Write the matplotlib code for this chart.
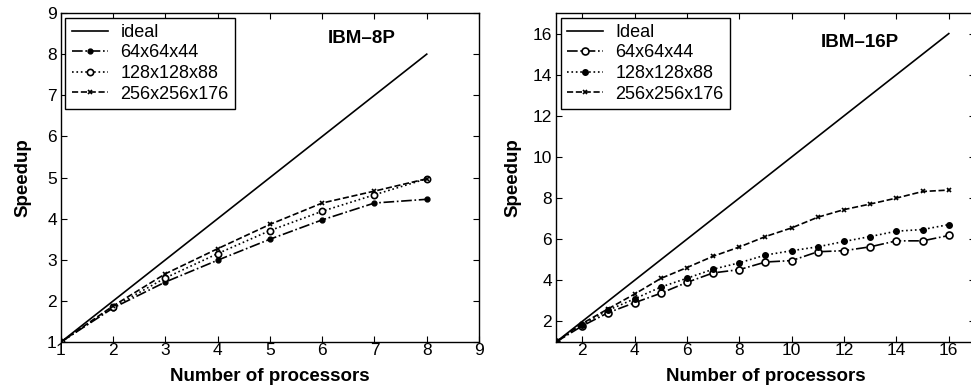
import matplotlib
matplotlib.use('Agg')
import matplotlib.pyplot as plt

plt.rcParams['font.family'] = ['Liberation Sans', 'DejaVu Sans']

# IBM-8P
procs_8 = [1, 2, 3, 4, 5, 6, 7, 8]
ideal_8 = [1, 2, 3, 4, 5, 6, 7, 8]
s64_8 = [1, 1.83, 2.46, 2.99, 3.50, 3.97, 4.38, 4.47]
s128_8 = [1, 1.85, 2.56, 3.15, 3.71, 4.18, 4.58, 4.97]
s256_8 = [1, 1.88, 2.66, 3.27, 3.86, 4.38, 4.67, 4.97]

# IBM-16P
procs_16 = list(range(1, 17))
ideal_16 = list(range(1, 17))
s64_16 = [1, 1.78, 2.43, 2.91, 3.37, 3.90, 4.36, 4.52, 4.89, 4.96, 5.39, 5.44, 5.63, 5.92, 5.92, 6.18]
s128_16 = [1, 1.85, 2.55, 3.10, 3.67, 4.10, 4.54, 4.85, 5.23, 5.44, 5.63, 5.89, 6.13, 6.39, 6.47, 6.71]
s256_16 = [1, 1.90, 2.62, 3.33, 4.09, 4.62, 5.17, 5.62, 6.13, 6.55, 7.07, 7.44, 7.71, 8.00, 8.32, 8.39]

fig = plt.figure(figsize=(9.71, 3.91), dpi=100)
ax1 = fig.add_axes([0.0628, 0.1253, 0.4305, 0.8414])
ax2 = fig.add_axes([0.5726, 0.1253, 0.4315, 0.8414])

lw = 1.2
ax1.plot(procs_8, ideal_8, 'k-', lw=lw, label='ideal')
ax1.plot(procs_8, s64_8, 'k-.', lw=lw, marker='.', ms=7, label='64x64x44')
ax1.plot(procs_8, s128_8, 'k:', lw=lw, marker='o', ms=4.5, mfc='white', mew=1.2, label='128x128x88')
ax1.plot(procs_8, s256_8, 'k--', lw=lw, marker='x', ms=3.5, mew=1.2, label='256x256x176')

ax2.plot(procs_16, ideal_16, 'k-', lw=lw, label='Ideal')
ax2.plot(procs_16, s64_16, 'k-.', lw=lw, marker='o', ms=5, mfc='white', mew=1.2, label='64x64x44')
ax2.plot(procs_16, s128_16, 'k:', lw=lw, marker='.', ms=8, label='128x128x88')
ax2.plot(procs_16, s256_16, 'k--', lw=lw, marker='x', ms=3.5, mew=1.2, label='256x256x176')

ax1.set_xlim(1, 9)
ax1.set_ylim(1, 9)
ax1.set_xticks(range(1, 10))
ax1.set_yticks(range(1, 10))
ax1.text(6.75, 8.39, 'IBM\u20138P', fontsize=13.5, fontweight='bold', ha='center', va='center')

ax2.set_xlim(1, 17)
ax2.set_ylim(1, 17)
ax2.set_xticks(range(2, 17, 2))
ax2.set_yticks(range(2, 17, 2))
ax2.text(12.6, 15.55, 'IBM\u201316P', fontsize=13.5, fontweight='bold', ha='center', va='center')

for ax, ypad in ((ax1, 11), (ax2, 8)):
    ax.tick_params(direction='in', top=True, right=True, labelsize=12.5, length=4, width=0.8)
    ax.tick_params(axis='x', pad=1)
    ax.tick_params(axis='y', pad=3)
    for sp in ax.spines.values():
        sp.set_linewidth(1.0)
    ax.set_xlabel('Number of processors', fontsize=13.5, fontweight='bold', labelpad=7)
    ax.set_ylabel('Speedup', fontsize=13.5, fontweight='bold', labelpad=ypad)
    leg = ax.legend(loc='upper left', fontsize=13, handlelength=2.0, fancybox=False,
                    edgecolor='black', framealpha=1, borderaxespad=0.25,
                    labelspacing=0.2, borderpad=0.35, handletextpad=0.7)
    leg.get_frame().set_linewidth(1.0)

fig.savefig('out.png', dpi=100)
